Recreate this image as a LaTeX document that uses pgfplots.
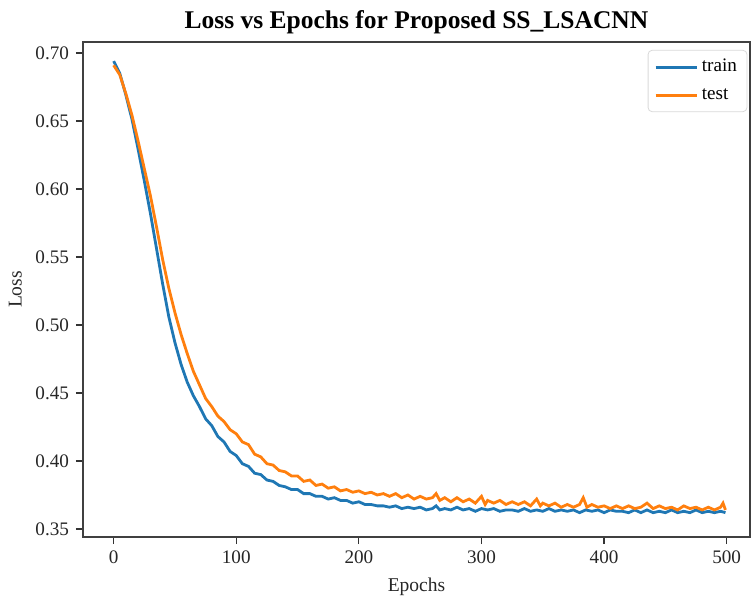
\documentclass[border=0pt]{standalone}
\usepackage{fontspec}
\setmainfont{Liberation Serif}
\usepackage{pgfplots}
\pgfplotsset{compat=1.18}
\definecolor{mplblue}{HTML}{1F77B4}
\definecolor{mplorange}{HTML}{FF7F0E}
\pgfplotstableread{
epoch loss
0 0.694
5 0.685
10 0.669
15 0.651
20 0.629
25 0.606
30 0.582
35 0.556
40 0.530
45 0.506
50 0.487
55 0.471
60 0.458
65 0.448
70 0.440
75 0.431
80 0.426
85 0.418
90 0.414
95 0.407
100 0.404
105 0.398
110 0.396
115 0.391
120 0.390
125 0.386
130 0.385
135 0.382
140 0.381
145 0.379
150 0.379
155 0.376
160 0.376
165 0.374
170 0.374
175 0.372
180 0.373
185 0.371
190 0.371
195 0.369
200 0.370
205 0.368
210 0.368
215 0.367
220 0.367
225 0.366
230 0.367
235 0.365
240 0.366
245 0.365
250 0.366
255 0.364
260 0.365
263 0.367
266 0.364
270 0.365
275 0.364
280 0.366
285 0.364
290 0.365
295 0.363
300 0.365
305 0.364
310 0.365
315 0.363
320 0.364
325 0.364
330 0.363
335 0.365
340 0.363
345 0.364
350 0.363
355 0.365
360 0.363
365 0.364
370 0.363
375 0.364
380 0.362
385 0.364
390 0.363
395 0.364
400 0.362
405 0.364
410 0.363
415 0.363
420 0.362
425 0.364
430 0.362
435 0.364
440 0.362
445 0.363
450 0.362
455 0.364
460 0.362
465 0.363
470 0.362
475 0.364
480 0.362
485 0.363
490 0.362
495 0.363
499 0.362
}\traindata
\pgfplotstableread{
epoch loss
0 0.691
5 0.684
10 0.670
15 0.654
20 0.635
25 0.615
30 0.595
35 0.572
40 0.548
45 0.527
50 0.509
55 0.493
60 0.479
65 0.466
70 0.456
75 0.446
80 0.440
85 0.433
90 0.429
95 0.423
100 0.420
105 0.414
110 0.412
115 0.405
120 0.403
125 0.398
130 0.397
135 0.393
140 0.392
145 0.389
150 0.389
155 0.385
160 0.386
165 0.382
170 0.383
175 0.380
180 0.381
185 0.378
190 0.379
195 0.377
200 0.378
205 0.376
210 0.377
215 0.375
220 0.376
225 0.374
230 0.376
235 0.373
240 0.375
245 0.372
250 0.374
255 0.372
260 0.373
263 0.376
266 0.371
270 0.373
275 0.370
280 0.373
285 0.370
290 0.372
295 0.369
300 0.374
303 0.368
305 0.371
310 0.369
315 0.371
320 0.368
325 0.370
330 0.368
335 0.370
340 0.367
345 0.372
348 0.367
350 0.369
355 0.367
360 0.369
365 0.366
370 0.368
375 0.366
380 0.368
383 0.373
386 0.366
390 0.368
395 0.366
400 0.367
405 0.365
410 0.367
415 0.365
420 0.367
425 0.365
430 0.366
435 0.369
440 0.365
445 0.367
450 0.365
455 0.366
460 0.364
465 0.367
470 0.365
475 0.366
480 0.364
485 0.366
490 0.364
495 0.366
497 0.369
499 0.364
}\testdata
\begin{document}
\begin{tikzpicture}
\path[use as bounding box] (0,0) rectangle (375.5bp,300.5bp);
\begin{axis}[
  at={(41.5bp,32bp)}, anchor=south west,
  scale only axis, width=333.5bp, height=247.5bp,
  xmin=-25, xmax=519, ymin=0.3441, ymax=0.7081,
  xtick={0,100,200,300,400,500},
  ytick={0.35,0.40,0.45,0.50,0.55,0.60,0.65,0.70},
  yticklabel style={/pgf/number format/.cd, fixed, fixed zerofill, precision=2},
  /pgf/number format/assume math mode=true,
  tick align=outside, tick pos=left, major tick length=3.5bp,
  tick style={black!80, line width=0.6pt},
  tick label style={font=\fontsize{9.6}{12}\selectfont, text=black!85},
  xlabel={Epochs}, ylabel={Loss},
  label style={font=\fontsize{9.8}{12}\selectfont, text=black!85},
  title={\textbf{Loss vs Epochs for Proposed SS\_LSACNN}},
  title style={font=\fontsize{12.8}{14}\selectfont, yshift=-5.5bp},
  axis line style={line width=0.8pt, black!75},
  legend style={at={(0.996,0.984)}, anchor=north east, draw=black!15,
    rounded corners=2pt, font=\fontsize{9.6}{12}\selectfont,
    inner xsep=3bp, inner ysep=2.5bp, row sep=3bp},
  legend cell align=left,
  legend image code/.code={\draw[#1] (0bp,0bp) -- (20.5bp,0bp);},
]
\addplot[mplblue, line width=1.4bp] table[x=epoch, y=loss] {\traindata};
\addlegendentry{train}
\addplot[mplorange, line width=1.4bp] table[x=epoch, y=loss] {\testdata};
\addlegendentry{test}
\end{axis}
\end{tikzpicture}
\end{document}
